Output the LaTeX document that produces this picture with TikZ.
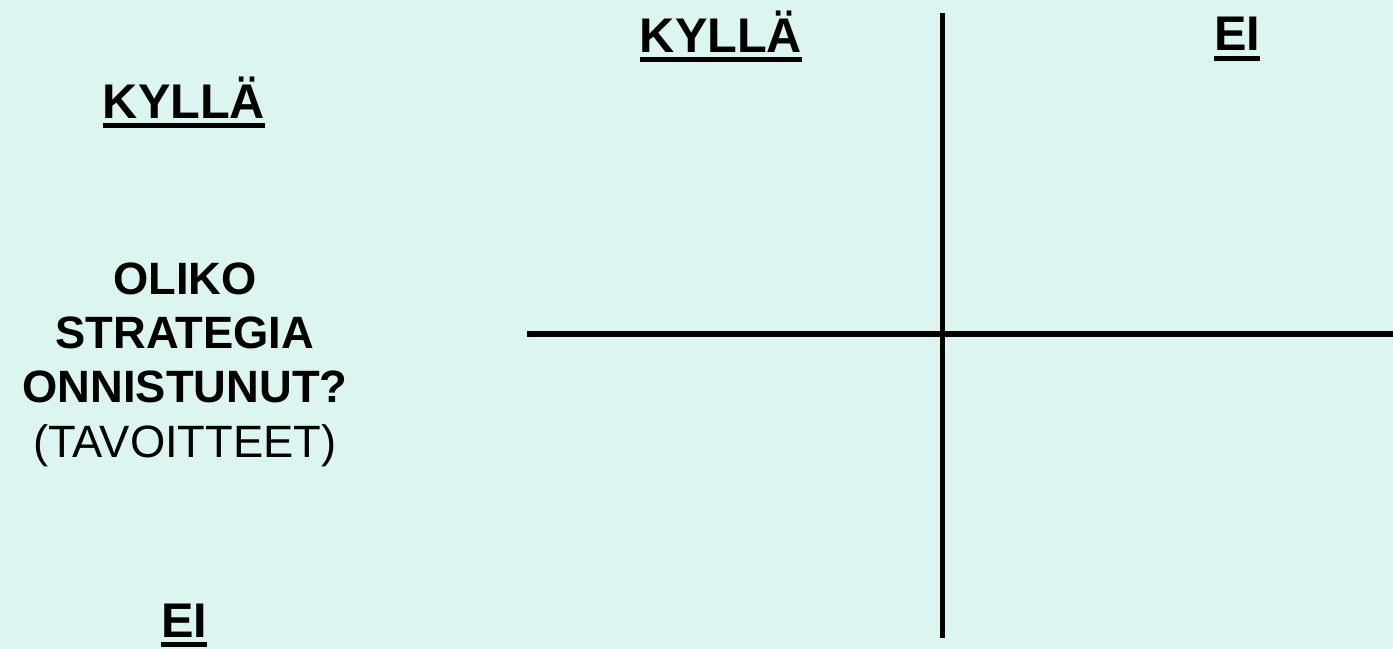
\documentclass[tikz,border=0pt]{standalone}
\usepackage{fontspec}
\setmainfont{Liberation Sans}
\usetikzlibrary{positioning}
\definecolor{bgcyan}{RGB}{221,245,241}
% thick underline for the axis answers
\newcommand{\thickul}[1]{\setbox0\hbox{#1}\rlap{\rule[-5.7pt]{\wd0}{3.1pt}}\box0}
\tikzset{
  answer/.style={
    anchor=base,
    inner sep=0pt,
    font=\fontsize{27.7}{32}\selectfont\bfseries
  },
  question/.style={
    anchor=north,
    inner sep=0pt,
    align=center,
    font=\fontsize{25.8}{31}\selectfont
  },
  axis/.style={line width=3.3pt}
}
\begin{document}
\begin{tikzpicture}[x=0.02cm,y=-0.02cm]
\fill[bgcyan] (0,0) rectangle (1393,649);
\useasboundingbox (0,0) rectangle (1393,649);
\node[answer] (colyes) at (721,52) {\thickul{KYLLÄ}};
\node[answer] (colno) at (1237,51) {\thickul{EI}};
\node[answer] (rowyes) at (184,118) {\thickul{KYLLÄ}};
\node[answer] (rowno) at (184,637) {\thickul{EI}};
\node[question] (question) at (185,262) {\textbf{OLIKO}\\\textbf{STRATEGIA}\\\textbf{ONNISTUNUT?}\\(TAVOITTEET)};
\coordinate (vtop) at (942.5,13);
\coordinate (vbot) at (942.5,638);
\coordinate (hleft) at (527,334);
\coordinate (hright) at (1393,334);

\draw[axis] (vtop) -- (vbot);
\draw[axis] (hleft) -- (hright);
\end{tikzpicture}
\end{document}
